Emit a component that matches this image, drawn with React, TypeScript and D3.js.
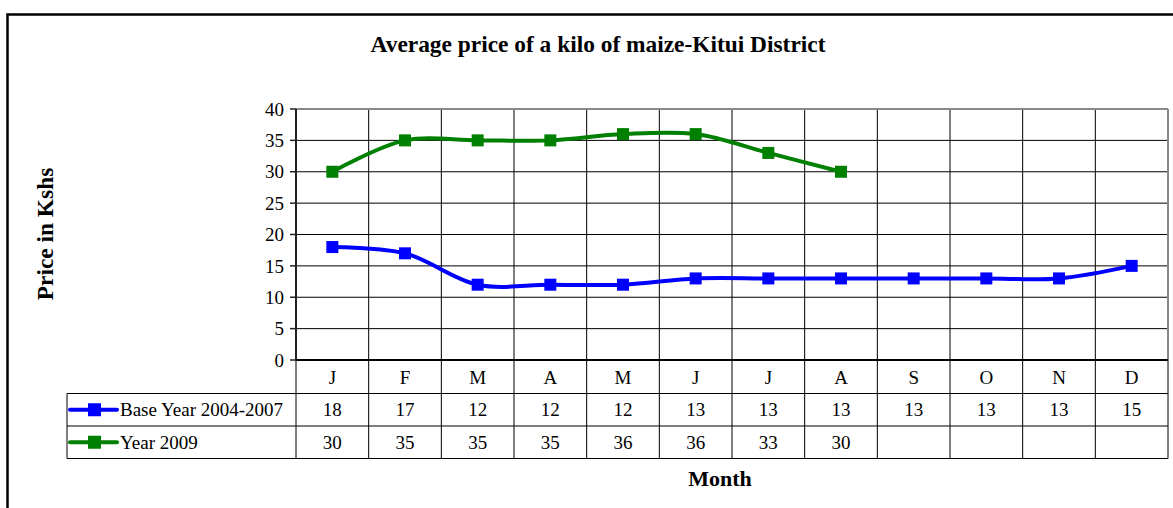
import * as d3 from "d3";

const months = ["J", "F", "M", "A", "M", "J", "J", "A", "S", "O", "N", "D"];
const baseYear = [18, 17, 12, 12, 12, 13, 13, 13, 13, 13, 13, 15];
const year2009 = [30, 35, 35, 35, 36, 36, 33, 30];
const yTicks = [0, 5, 10, 15, 20, 25, 30, 35, 40];

const series = [
  { name: "Base Year 2004-2007", values: baseYear, color: "#0000ff" },
  { name: "Year 2009", values: year2009, color: "#008000" },
];

const font = "'Liberation Serif', 'Times New Roman', serif";

export default function App() {
  const width = 1173;
  const height = 508;
  const plot = { left: 296, right: 1168, top: 109, bottom: 360 };
  const rowH = 32.5;
  const legendLeft = 67;

  const x = d3
    .scaleBand<number>()
    .domain(months.map((_, i) => i))
    .range([plot.left, plot.right]);
  const y = d3.scaleLinear().domain([0, 40]).range([plot.bottom, plot.top]);
  const cx = (i: number) => (x(i) as number) + x.bandwidth() / 2;

  const line = d3
    .line<number>()
    .x((_, i) => cx(i))
    .y((d) => y(d))
    .curve(d3.curveCatmullRom.alpha(0.5));

  const tableTop = plot.bottom;
  const rowsTop = tableTop + 33.5;

  return (
    <svg
      width={width}
      height={height}
      style={{ position: "absolute", left: 0, top: 0, background: "#fff" }}
      fontFamily={font}
    >
      {/* outer frame */}
      <rect x={7.5} y={14.5} width={1180} height={520} fill="none" stroke="#000" strokeWidth={2.5} />

      <text x={598} y={52} textAnchor="middle" fontSize={23.4} fontWeight="bold">
        Average price of a kilo of maize-Kitui District
      </text>

      <text
        transform={`translate(53,234) rotate(-90)`}
        textAnchor="middle"
        fontSize={23.4}
        fontWeight="bold"
      >
        Price in Kshs
      </text>

      {/* grid */}
      {yTicks.map((t) => (
        <line key={"h" + t} x1={plot.left} x2={plot.right} y1={y(t)} y2={y(t)} stroke="#000" strokeWidth={1} />
      ))}
      {months.map((_, i) =>
        i === 0 ? null : (
          <line
            key={"v" + i}
            x1={x(i) as number}
            x2={x(i) as number}
            y1={plot.top}
            y2={plot.bottom}
            stroke="#000"
            strokeWidth={1}
          />
        )
      )}
      <line x1={plot.left} x2={plot.right} y1={plot.top} y2={plot.top} stroke="#888" strokeWidth={2} />
      <line x1={plot.right} x2={plot.right} y1={plot.top} y2={plot.bottom} stroke="#888" strokeWidth={2} />

      {/* y axis */}
      <line x1={plot.left} x2={plot.left} y1={plot.top} y2={plot.bottom} stroke="#222" strokeWidth={2} />
      {yTicks.map((t) => (
        <g key={"t" + t}>
          <line x1={plot.left - 6} x2={plot.left} y1={y(t)} y2={y(t)} stroke="#222" strokeWidth={1.5} />
          <text x={plot.left - 12} y={y(t)} dy="0.35em" textAnchor="end" fontSize={19}>
            {t}
          </text>
        </g>
      ))}

      {/* lines */}
      {series.map((s) => (
        <g key={s.name}>
          <path d={line(s.values) as string} fill="none" stroke={s.color} strokeWidth={4} />
          {s.values.map((v, i) => (
            <rect key={i} x={cx(i) - 6} y={y(v) - 6} width={12} height={12} fill={s.color} />
          ))}
        </g>
      ))}

      {/* data table */}
      <g stroke="#000" strokeWidth={1}>
        <line x1={plot.left} x2={plot.left} y1={tableTop} y2={rowsTop + rowH * 2} />
        <line x1={plot.right} x2={plot.right} y1={tableTop} y2={rowsTop + rowH * 2} />
        {months.map((_, i) =>
          i === 0 ? null : (
            <line key={i} x1={x(i) as number} x2={x(i) as number} y1={tableTop} y2={rowsTop + rowH * 2} />
          )
        )}
        <line x1={plot.left} x2={plot.right} y1={tableTop} y2={tableTop} strokeWidth={2} />
        {[0, 1, 2].map((r) => (
          <line key={r} x1={legendLeft} x2={plot.right} y1={rowsTop + rowH * r} y2={rowsTop + rowH * r} />
        ))}
        <line x1={legendLeft} x2={legendLeft} y1={rowsTop} y2={rowsTop + rowH * 2} />
      </g>
      {months.map((m, i) => (
        <text key={"m" + i} x={cx(i)} y={tableTop + 17} dy="0.35em" textAnchor="middle" fontSize={19}>
          {m}
        </text>
      ))}
      {series.map((s, r) => {
        const ry = rowsTop + rowH * r + rowH / 2;
        return (
          <g key={"row" + s.name}>
            <line x1={70} x2={117} y1={ry} y2={ry} stroke={s.color} strokeWidth={4} strokeLinecap="round" />
            <rect x={88} y={ry - 6.5} width={13} height={13} fill={s.color} />
            <text x={120} y={ry} dy="0.35em" fontSize={19}>
              {s.name}
            </text>
            {s.values.map((v, i) => (
              <text key={i} x={cx(i)} y={ry} dy="0.35em" textAnchor="middle" fontSize={19}>
                {v}
              </text>
            ))}
          </g>
        );
      })}

      <text x={720} y={486} textAnchor="middle" fontSize={22} fontWeight="bold">
        Month
      </text>
    </svg>
  );
}
